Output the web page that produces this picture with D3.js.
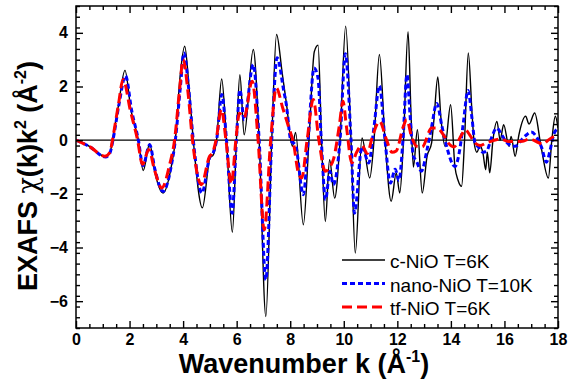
<!DOCTYPE html>
<html>
<head>
<meta charset="utf-8">
<script src="https://cdn.jsdelivr.net/npm/d3@7"></script>
<style>
  body { margin: 0; background: #fff; }
  svg { display: block; }
  text { font-family: "Liberation Sans", Arial, sans-serif; }
</style>
</head>
<body>
<svg id="chart" width="571" height="384"></svg>
<script>
// c-NiO T=6K
const kC = [0, 0.52, 1.08, 1.27, 1.36, 1.57, 1.83, 2.05, 2.33, 2.51, 2.75, 2.95, 3.25, 3.56, 3.71, 3.88, 4.06, 4.22, 4.38, 4.72,
  5.0, 5.13, 5.25, 5.44, 5.62, 5.84, 5.99, 6.12, 6.28, 6.62, 6.84, 7.09, 7.31, 7.49, 7.70, 7.86, 8.08, 8.20, 8.49, 8.70,
  8.90, 9.04, 9.17, 9.31, 9.47, 9.66, 9.86, 10.07, 10.27, 10.43, 10.68, 10.97, 11.13, 11.33, 11.54, 11.77, 11.96, 12.09, 12.23, 12.40,
  12.51, 12.60, 12.75, 12.93, 13.11, 13.28, 13.37, 13.51, 13.63, 13.78, 13.99, 14.15, 14.27, 14.40, 14.51, 14.65, 14.79, 14.87, 14.97, 15.09,
  15.20, 15.30, 15.36, 15.45, 15.57, 15.72, 15.84, 15.97, 16.17, 16.25, 16.40, 16.54, 16.79, 16.92, 17.13, 17.36, 17.64, 17.77, 17.90, 18.0];
const chiC = [0, -0.24, -0.6, -0.47, 0, 1.2, 2.6, 1.14, 0, -1.13, -0.13, -1.22, -1.97, -0.98, 0, 2.3, 3.5, 2.0, 0, -2.52,
  -0.67, -0.54, 0, 2.28, 0, -3.43, 0, 2.44, 0.2, 3.38, 0, -6.57, 0, 3.94, 2.5, 1.35, -0.23, 0.29, -3.15, 0,
  3.3, 3.54, 0, -3.03, -0.73, -2.16, 0, 4.25, 0, -4.21, 0.08, -1.41, 0, 3.19, 0, -2.28, -1.22, -1.97, 0, 4.04,
  1.0, -1.0, 0.39, -1.97, -0.6, -0.1, 0.8, 2.36, 0.8, -0.23, 1.32, -0.98, -1.5, -1.72, 0, 3.25, 1.0, -0.1, -0.45, -0.2,
  -0.5, -1.1, -0.45, -1.22, 0, 0.7, 0, 0.58, -0.23, 0.14, -0.6, 0.2, 0.89, 0.6, 1.01, -0.2, -1.41, 0, 0.89, 0.46];

// nano-NiO T=10K
const kN = [0, 0.52, 1.1, 1.27, 1.38, 1.6, 1.85, 2.08, 2.33, 2.5, 2.75, 2.95, 3.25, 3.56, 3.71, 3.9, 4.03, 4.2, 4.38, 4.7,
  5.0, 5.13, 5.25, 5.45, 5.62, 5.83, 5.99, 6.12, 6.28, 6.62, 6.84, 7.09, 7.31, 7.51, 7.77, 7.85, 8.02, 8.2, 8.49, 8.67,
  8.89, 9.04, 9.16, 9.32, 9.48, 9.61, 9.86, 10.06, 10.27, 10.40, 10.68, 10.93, 11.13, 11.33, 11.54, 11.74, 11.92, 12.06, 12.21, 12.36,
  12.47, 12.60, 12.70, 12.90, 13.10, 13.28, 13.47, 13.67, 13.84, 14.15, 14.34, 14.46, 14.64, 14.79, 14.90, 15.02, 15.20, 15.34, 15.52, 15.71,
  15.90, 16.06, 16.32, 16.47, 16.63, 16.83, 17.00, 17.18, 17.38, 17.57, 17.70, 17.82, 18.0];
const chiN = [0, -0.25, -0.63, -0.47, 0, 1.3, 2.4, 1.1, 0, -0.95, -0.17, -1.1, -1.91, -0.95, 0, 2.0, 3.25, 2.0, 0, -1.97,
  -0.62, -0.45, 0, 1.7, 0, -2.72, 0, 1.88, 0.76, 2.82, 0, -5.2, 0, 3.07, 1.77, 1.36, 0, -0.2, -2.03, 0,
  2.69, 2.3, 0, -2.22, -1.16, -1.66, 0, 3.22, 0, -2.72, -0.23, -0.85, 0.5, 2.03, 0, -1.6, -1.08, -1.5, 0, 2.44,
  1.0, -0.6, -0.75, -1.16, -0.4, 0.5, 1.37, 0.5, -0.23, -0.98, -0.3, 0.6, 1.85, 0.8, -0.1, -0.25, -0.45, -0.4, 0.1, 0.45,
  0.2, -0.05, -0.23, -0.2, 0, 0.2, 0.3, 0.15, -0.25, -0.82, -0.4, 0.15, 0.45];

// tf-NiO T=6K
const kT = [0, 0.52, 1.08, 1.27, 1.36, 1.58, 1.76, 2.03, 2.3, 2.48, 2.72, 2.93, 3.2, 3.5, 3.68, 3.87, 4.0, 4.18, 4.35, 4.68,
  4.98, 5.11, 5.23, 5.43, 5.6, 5.8, 5.97, 6.1, 6.28, 6.58, 6.8, 7.03, 7.27, 7.48, 7.72, 7.93, 8.12, 8.3, 8.43, 8.63,
  8.86, 9.07, 9.31, 9.48, 9.62, 9.83, 9.97, 10.1, 10.3, 10.48, 10.68, 10.88, 11.06, 11.34, 11.6, 11.8, 11.96, 12.22, 12.35, 12.54,
  12.72, 12.93, 13.28, 13.48, 13.72, 13.9, 14.11, 14.4, 14.53, 14.7, 14.9, 15.09, 15.33, 15.88, 16.13, 16.69, 16.94, 17.19, 17.44, 17.63,
  17.88, 18.0];
const chiT = [0, -0.25, -0.6, -0.45, 0, 1.3, 2.26, 1.1, 0, -0.9, -0.35, -1.1, -1.78, -0.9, 0, 1.9, 3.0, 1.8, 0, -1.66,
  -0.62, -0.45, 0, 1.15, 0, -1.63, 0, 1.0, 0.84, 2.2, 0, -3.34, 0, 1.95, 1.2, 0.52, -0.1, -1.2, -1.41, 0,
  1.52, 0, -1.16, -1.0, -0.7, 0.52, 1.45, 0.5, -0.85, -0.45, -0.2, -0.5, 0.1, 0.7, 0, -0.45, -0.4, 0.5, 0.76, 0.1,
  -0.23, -0.25, 0.45, 0.45, 0.2, -0.1, -0.25, 0.2, 0.39, 0.2, -0.1, -0.2, -0.1, 0.04, -0.05, -0.04, 0.05, -0.05, -0.15, 0,
  0.14, 0.15];

const xTicks = [0, 2, 4, 6, 8, 10, 12, 14, 16, 18];
const yTicks = [-6, -4, -2, 0, 2, 4];
const seriesNames = ["c-NiO T=6K", "nano-NiO T=10K", "tf-NiO T=6K"];

const svg = d3.select("#chart");
const mLeft = 76, mRight = 558, mTop = 6, mBottom = 328;

const x = d3.scaleLinear().domain([0, 18]).range([mLeft, mRight]);
const y = d3.scaleLinear().domain([-7, 5]).range([mBottom, mTop]);

const xMinor = d3.range(0, 18.01, 0.5).filter(v => !xTicks.includes(v));
const yMinor = d3.range(-7, 5.01, 0.4).map(v => +v.toFixed(1)).filter(v => !yTicks.includes(v));

svg.append("defs").append("clipPath").attr("id", "plot")
  .append("rect").attr("x", mLeft).attr("y", mTop).attr("width", mRight - mLeft).attr("height", mBottom - mTop);

// zero line
svg.append("line")
  .attr("x1", mLeft).attr("x2", mRight)
  .attr("y1", y(0)).attr("y2", y(0))
  .attr("stroke", "#000").attr("stroke-width", 1.2);

const line = (ks, vs) => d3.line()
  .x((d, i) => x(ks[i]))
  .y(d => y(d))
  .curve(d3.curveMonotoneX)(vs);

const g = svg.append("g").attr("clip-path", "url(#plot)");
const styles = [
  { color: "#000", width: 1.4, dash: null },
  { color: "#0000ff", width: 3, dash: "5,3" },
  { color: "#ff0000", width: 3, dash: "10,5" }
];
const data = [[kC, chiC], [kN, chiN], [kT, chiT]];
data.forEach(([ks, vs], i) => {
  g.append("path")
    .attr("d", line(ks, vs))
    .attr("fill", "none")
    .attr("stroke", styles[i].color)
    .attr("stroke-width", styles[i].width)
    .attr("stroke-dasharray", styles[i].dash)
    .attr("stroke-linejoin", "round");
});

// axes with inward ticks
function styleAxis(sel) {
  sel.select(".domain").remove();
  sel.selectAll(".tick line").attr("stroke", "#000").attr("stroke-width", 1.4);
  sel.selectAll("text").attr("fill", "#000").style("font-size", "16px").style("font-weight", "bold");
}
svg.append("g").attr("transform", `translate(0,${mBottom})`)
  .call(d3.axisBottom(x).tickValues(xTicks).tickSize(-7).tickPadding(6).tickFormat(d3.format("d")))
  .call(styleAxis);
svg.append("g").attr("transform", `translate(0,${mBottom})`)
  .call(d3.axisBottom(x).tickValues(xMinor).tickSize(-4).tickFormat(""))
  .call(styleAxis);
svg.append("g").attr("transform", `translate(0,${mTop})`)
  .call(d3.axisTop(x).tickValues(xTicks).tickSize(-7).tickFormat(""))
  .call(styleAxis);
svg.append("g").attr("transform", `translate(0,${mTop})`)
  .call(d3.axisTop(x).tickValues(xMinor).tickSize(-4).tickFormat(""))
  .call(styleAxis);
svg.append("g").attr("transform", `translate(${mLeft},0)`)
  .call(d3.axisLeft(y).tickValues(yTicks).tickSize(-7).tickPadding(8).tickFormat(d3.format("d")))
  .call(styleAxis);
svg.append("g").attr("transform", `translate(${mLeft},0)`)
  .call(d3.axisLeft(y).tickValues(yMinor).tickSize(-4).tickFormat(""))
  .call(styleAxis);
svg.append("g").attr("transform", `translate(${mRight},0)`)
  .call(d3.axisRight(y).tickValues(yTicks).tickSize(-7).tickFormat(""))
  .call(styleAxis);
svg.append("g").attr("transform", `translate(${mRight},0)`)
  .call(d3.axisRight(y).tickValues(yMinor).tickSize(-4).tickFormat(""))
  .call(styleAxis);

// frame
svg.append("rect")
  .attr("x", mLeft).attr("y", mTop).attr("width", mRight - mLeft).attr("height", mBottom - mTop)
  .attr("fill", "none").attr("stroke", "#000").attr("stroke-width", 1.5);

// legend
const legend = svg.append("g");
seriesNames.forEach((name, i) => {
  const ly = 260 + i * 23.5;
  legend.append("line")
    .attr("x1", 342).attr("x2", 385).attr("y1", ly).attr("y2", ly)
    .attr("stroke", styles[i].color).attr("stroke-width", styles[i].width)
    .attr("stroke-dasharray", styles[i].dash);
  legend.append("text")
    .attr("x", 390).attr("y", ly + 8)
    .style("font-size", "19px")
    .text(name);
});

// axis titles
const xt = svg.append("text")
  .attr("x", 304).attr("y", 373)
  .attr("text-anchor", "middle")
  .style("font-size", "27px").style("font-weight", "bold");
xt.append("tspan").text("Wavenumber k (Å");
xt.append("tspan").attr("dy", -11).style("font-size", "16px").text("-1");
xt.append("tspan").attr("dy", 11).text(")");

const yt = svg.append("text")
  .attr("transform", "translate(37,176) rotate(-90)")
  .attr("text-anchor", "middle")
  .style("font-size", "27px").style("font-weight", "bold");
yt.append("tspan").text("EXAFS ");
yt.append("tspan").style("font-weight", "normal").style("font-family", "'DejaVu Serif', serif").text("χ");
yt.append("tspan").text("(k)k");
yt.append("tspan").attr("dy", -11).style("font-size", "16px").text("2");
yt.append("tspan").attr("dy", 11).text(" (Å");
yt.append("tspan").attr("dy", -11).style("font-size", "16px").text("-2");
yt.append("tspan").attr("dy", 11).text(")");
</script>
</body>
</html>
